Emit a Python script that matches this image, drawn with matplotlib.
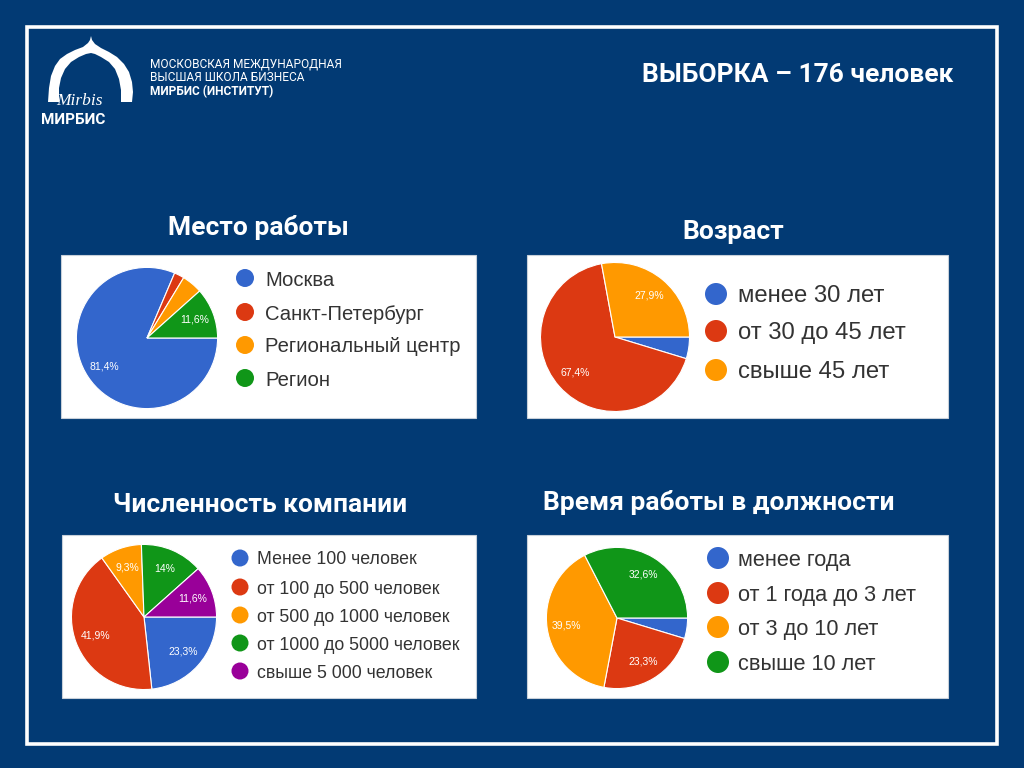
import numpy as np
import matplotlib
matplotlib.use("Agg")
import matplotlib.pyplot as plt
from matplotlib.patches import Rectangle, Circle, Polygon

# ---------------- data ----------------
work_labels = ["Москва", "Санкт-Петербург", "Региональный центр", "Регион"]
work_values = [81.4, 2.3, 4.7, 11.6]

age_labels = ["менее 30 лет", "от 30 до 45 лет", "свыше 45 лет"]
age_values = [4.7, 67.4, 27.9]

size_labels = ["Менее 100 человек", "от 100 до 500 человек", "от 500 до 1000 человек",
               "от 1000 до 5000 человек", "свыше 5 000 человек"]
size_values = [23.3, 41.9, 9.3, 14.0, 11.6]

tenure_labels = ["менее года", "от 1 года до 3 лет", "от 3 до 10 лет", "свыше 10 лет"]
tenure_values = [4.7, 23.3, 39.5, 32.6]

titles = ["Место работы", "Возраст", "Численность компании", "Время работы в должности"]
header = "ВЫБОРКА – 176 человек"

GOOGLE = ["#3366CC", "#DC3912", "#FF9900", "#109618", "#990099"]
BG = "#023a74"

W, H = 1024, 768
fig = plt.figure(figsize=(W / 100, H / 100), dpi=100, facecolor=BG)

# pixel-space overlay axes
bg = fig.add_axes([0, 0, 1, 1])
bg.set_xlim(0, W)
bg.set_ylim(H, 0)
bg.axis("off")
bg.set_facecolor(BG)

# outer white frame
bg.add_patch(Rectangle((27, 27), 970, 717, fill=False, edgecolor="white", lw=2.6))

# ---------------- logo (decoration) ----------------
dome_outline = [
    (48, 102), (49, 88), (51, 76), (55, 66), (60, 59), (67, 54), (75, 50), (83, 47),
    (88, 43), (90, 40), (91, 36), (92, 40), (95, 44), (101, 48), (109, 52), (117, 57),
    (124, 64), (129, 72), (132, 82), (133, 92), (132, 102),
    (121, 102), (121, 90), (119, 79), (115, 69), (109, 62), (101, 57), (95, 54),
    (91, 53), (86, 54), (79, 57), (71, 62), (65, 69), (61, 78), (59, 88), (59, 102),
]
bg.add_patch(Polygon(dome_outline, closed=True, facecolor="white", edgecolor="none"))
bg.text(79, 99, "Mirbis", color="white", fontsize=12.5, fontstyle="italic",
        family="Liberation Serif", ha="center", va="center_baseline")
bg.text(73, 118, "МИРБИС", color="white", fontsize=11, fontweight="bold",
        family="Roboto", ha="center", va="center_baseline")
for txt, yy, wt in [("МОСКОВСКАЯ МЕЖДУНАРОДНАЯ", 62, "normal"),
                    ("ВЫСШАЯ ШКОЛА БИЗНЕСА", 76, "normal"),
                    ("МИРБИС (ИНСТИТУТ)", 90, "bold")]:
    bg.text(150, yy, txt, color="white", fontsize=8.6, fontweight=wt,
            family="Roboto", ha="left", va="center_baseline")

bg.text(798, 72, header, color="white", fontsize=19, fontweight="bold",
        family="Roboto", ha="center", va="center_baseline")

# ---------------- panels ----------------
panels = [
    dict(box=(61, 255, 476, 418), title=(258, 225), pie=(147, 338, 72),
         legend=(245, 265, [278, 312, 345, 378], 9, 14.6),
         labels=work_labels, values=work_values),
    dict(box=(527, 255, 948, 418), title=(733, 230), pie=(615, 337, 76),
         legend=(716, 738, [294, 331, 370], 11, 17.2),
         labels=age_labels, values=age_values),
    dict(box=(62, 535, 476, 698), title=(260, 503), pie=(144, 617, 74),
         legend=(240, 257, [558, 587, 615, 643, 671], 8.5, 12.8),
         labels=size_labels, values=size_values),
    dict(box=(527, 535, 948, 698), title=(719, 500), pie=(617, 618, 72),
         legend=(718, 738, [558, 593, 627, 662], 11, 15.7),
         labels=tenure_labels, values=tenure_values),
]


def fmt_pct(p):
    if p < 5:
        return ""
    s = f"{round(p, 1):g}".replace(".", ",")
    return s + "%"


for p, ttl in zip(panels, titles):
    x0, y0, x1, y1 = p["box"]
    bg.add_patch(Rectangle((x0, y0), x1 - x0, y1 - y0, facecolor="white",
                           edgecolor="#c8d0da", lw=0.8))
    bg.text(p["title"][0], p["title"][1], ttl, color="white", fontsize=19,
            fontweight="bold", family="Roboto", ha="center", va="center_baseline")

    # legend
    lcx, ltx, rows, cr, fs = p["legend"]
    for i, (lab, yy) in enumerate(zip(p["labels"], rows)):
        bg.add_patch(Circle((lcx, yy), cr, facecolor=GOOGLE[i], edgecolor="none"))
        bg.text(ltx, yy, lab, color="#333333", fontsize=fs,
                family="Liberation Sans", ha="left", va="center_baseline")

    # pie
    pcx, pcy, r = p["pie"]
    ax = fig.add_axes([(pcx - r) / W, 1 - (pcy + r) / H, 2 * r / W, 2 * r / H])
    ax.pie(p["values"], colors=GOOGLE[:len(p["values"])], startangle=0,
           counterclock=False, radius=1, autopct=fmt_pct, pctdistance=0.72,
           wedgeprops=dict(edgecolor="white", linewidth=0.8),
           textprops=dict(color="white", fontsize=7.5, family="Liberation Sans"))
    ax.set_xlim(-1.02, 1.02)
    ax.set_ylim(-1.02, 1.02)
    ax.set_aspect("equal")
    ax.axis("off")

fig.savefig("out.png", dpi=100, facecolor=BG)
